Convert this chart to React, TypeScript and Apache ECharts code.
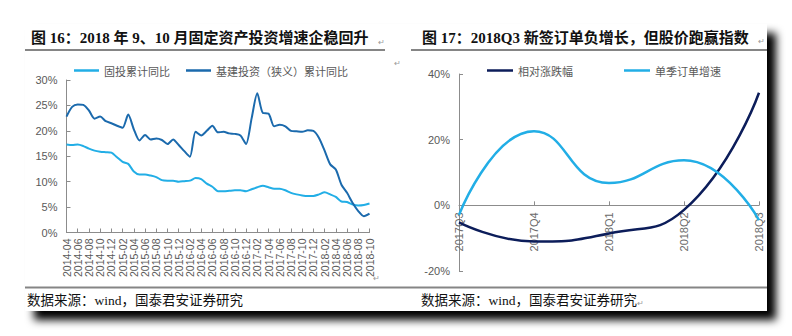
import React, { useEffect, useRef } from "react";
import * as echarts from "echarts";

// ---------- Data ----------
const months: string[] = (() => {
  const out: string[] = [];
  let y = 2014;
  let m = 4;
  while (y < 2018 || (y === 2018 && m <= 10)) {
    out.push(`${y}-${m < 10 ? "0" + m : m}`);
    m++;
    if (m > 12) {
      m = 1;
      y++;
    }
  }
  return out;
})();

// 固投累计同比 (%)
const faiYoY = [
  17.3, 17.2, 17.3, 17.0, 16.5, 16.1, 15.9, 15.8, 15.7, 14.8, 13.9, 13.5,
  12.0, 11.4, 11.4, 11.2, 10.9, 10.3, 10.2, 10.2, 10.0, 10.1, 10.2, 10.7,
  10.5, 9.6, 9.0, 8.1, 8.1, 8.2, 8.3, 8.3, 8.1, 8.5, 8.9, 9.2,
  8.9, 8.6, 8.6, 8.3, 7.8, 7.5, 7.3, 7.2, 7.2, 7.5, 7.9, 7.5,
  7.0, 6.1, 6.0, 5.5, 5.3, 5.4, 5.7,
];

// 基建投资(狭义)累计同比 (%)
const infraYoY = [
  22.8, 24.7, 25.2, 25.1, 24.0, 22.4, 22.8, 21.9, 21.5, 21.0, 20.6, 23.2,
  20.3, 18.1, 19.2, 18.3, 18.5, 18.2, 17.4, 18.3, 17.2, 16.0, 14.9, 19.8,
  19.1, 20.0, 21.0, 19.7, 19.8, 19.5, 19.4, 19.1, 17.4, 22.5, 27.4, 23.5,
  23.4, 20.9, 21.2, 20.9, 20.0, 19.9, 19.8, 20.1, 20.0, 18.6, 16.1, 13.4,
  12.4, 9.4, 7.8, 5.8, 4.2, 3.2, 3.7,
];

const quarters = ["2017Q3", "2017Q4", "2018Q1", "2018Q2", "2018Q3"];
// 相对涨跌幅 (%)
const relReturn = [-5.2, -11.0, -8.6, -1.4, 34.3];
// 单季订单增速 (%)
const orderGrowth = [-2.9, 22.6, 6.8, 13.7, -4.5];

const leftYTicks = { min: 0, max: 30, interval: 5 };
const rightYTicks = { min: -20, max: 40, interval: 20 };

// ---------- Styles ----------
const LIGHT = "#22aee6";
const DARK = "#1b6aad";
const NAVY = "#0c1d5a";
const AXIS = "#8c8c8c";
const LABEL = "#595959";
const SANS = "'Liberation Sans', Arial, sans-serif";
const CJK = "'Liberation Serif', 'Noto Sans CJK SC', serif";
const LEG = "'Noto Sans CJK SC', sans-serif";

// right grid geometry: distance from grid bottom up to the 0 line
const R_TOP = 74;
const R_H = 197;
const zeroLift = R_H * (rightYTicks.min / (rightYTicks.min - rightYTicks.max));

export default function App() {
  const ref = useRef<HTMLDivElement>(null);

  useEffect(() => {
    if (!ref.current) return;
    const chart = echarts.init(ref.current, undefined, { renderer: "svg" });

    const mark = (x: number, y: number) => ({
      type: "text",
      x,
      y,
      style: { text: "↵", fill: "#9a9a9a", font: `8px ${SANS}` },
    });

    chart.setOption({
      animation: false,
      backgroundColor: "#ffffff",
      graphic: [
        {
          type: "rect",
          z: -100,
          shape: { x: 25, y: 24, width: 742, height: 287 },
          style: {
            fill: "#ffffff",
            shadowBlur: 9,
            shadowOffsetX: 9,
            shadowOffsetY: 9,
            shadowColor: "rgba(0,0,0,1)",
          },
        },
        {
          type: "text",
          x: 31,
          y: 38,
          style: {
            text: "图 16：2018 年 9、10 月固定资产投资增速企稳回升",
            font: `bold 15px ${CJK}`,
            fill: "#111",
            verticalAlign: "middle",
          },
        },
        {
          type: "text",
          x: 422,
          y: 38,
          style: {
            text: "图 17：2018Q3 新签订单负增长，但股价跑赢指数",
            font: `bold 15px ${CJK}`,
            fill: "#111",
            verticalAlign: "middle",
          },
        },
        {
          type: "line",
          shape: { x1: 25, y1: 50, x2: 385, y2: 50 },
          style: { stroke: "#858585", lineWidth: 2 },
        },
        {
          type: "line",
          shape: { x1: 411, y1: 50, x2: 767, y2: 50 },
          style: { stroke: "#858585", lineWidth: 2 },
        },
        {
          type: "line",
          shape: { x1: 25, y1: 287.5, x2: 767, y2: 287.5 },
          style: { stroke: "#858585", lineWidth: 2 },
        },
        {
          type: "text",
          x: 27,
          y: 300,
          style: {
            text: "数据来源：wind，国泰君安证券研究",
            font: `13.5px ${CJK}`,
            fill: "#111",
            verticalAlign: "middle",
          },
        },
        {
          type: "text",
          x: 421,
          y: 300,
          style: {
            text: "数据来源：wind，国泰君安证券研究",
            font: `13.5px ${CJK}`,
            fill: "#111",
            verticalAlign: "middle",
          },
        },
        mark(378, 38),
        mark(394, 59),
        mark(758, 37),
        mark(373, 274),
        mark(637, 299),
      ],
      legend: [
        {
          data: ["固投累计同比", "基建投资（狭义）累计同比"],
          left: 69,
          top: 60,
          icon: "rect",
          itemWidth: 25,
          itemHeight: 2.5,
          itemGap: 16,
          textStyle: { fontSize: 11, color: LABEL, fontFamily: LEG },
        },
        {
          data: ["相对涨跌幅", "单季订单增速"],
          left: 482,
          top: 60,
          icon: "rect",
          itemWidth: 26,
          itemHeight: 2.5,
          itemGap: 51,
          textStyle: { fontSize: 11, color: LABEL, fontFamily: LEG },
        },
      ],
      grid: [
        { left: 66.5, top: 80, width: 303, height: 152.5, outerBoundsMode: "none" },
        { left: 459, top: R_TOP, width: 300, height: R_H, outerBoundsMode: "none" },
      ],
      xAxis: [
        {
          gridIndex: 0,
          type: "category",
          data: months,
          boundaryGap: false,
          axisLine: { lineStyle: { color: AXIS, width: 1 } },
          axisTick: { inside: true, interval: 1, length: 4, lineStyle: { color: AXIS } },
          axisLabel: {
            interval: 1,
            rotate: 90,
            margin: 6,
            fontSize: 10.5,
            color: LABEL,
            fontFamily: SANS,
          },
        },
        {
          gridIndex: 1,
          type: "category",
          data: quarters,
          boundaryGap: false,
          position: "bottom",
          offset: -zeroLift,
          axisLine: { onZero: false, lineStyle: { color: AXIS, width: 1 } },
          axisTick: { inside: true, length: 4, lineStyle: { color: AXIS } },
          axisLabel: {
            rotate: 90,
            margin: 7,
            fontSize: 11,
            color: "#6a6a6a",
            fontFamily: SANS,
          },
        },
      ],
      yAxis: [
        {
          gridIndex: 0,
          type: "value",
          ...leftYTicks,
          splitLine: { show: false },
          axisLine: { show: true, lineStyle: { color: AXIS, width: 1 } },
          axisTick: { show: true, inside: true, length: 4, lineStyle: { color: AXIS } },
          axisLabel: {
            formatter: "{value}%",
            margin: 9,
            fontSize: 11,
            color: LABEL,
            fontFamily: SANS,
          },
        },
        {
          gridIndex: 1,
          type: "value",
          ...rightYTicks,
          splitLine: { show: false },
          axisLine: { show: true, onZero: false, lineStyle: { color: AXIS, width: 1 } },
          axisTick: { show: true, inside: true, length: 4, lineStyle: { color: AXIS } },
          axisLabel: {
            formatter: "{value}%",
            margin: 9,
            fontSize: 11,
            color: LABEL,
            fontFamily: SANS,
          },
        },
      ],
      series: [
        {
          name: "固投累计同比",
          type: "line",
          xAxisIndex: 0,
          yAxisIndex: 0,
          data: faiYoY,
          showSymbol: false,
          smooth: 0.25,
          lineStyle: { color: LIGHT, width: 2 },
          itemStyle: { color: LIGHT },
        },
        {
          name: "基建投资（狭义）累计同比",
          type: "line",
          xAxisIndex: 0,
          yAxisIndex: 0,
          data: infraYoY,
          showSymbol: false,
          smooth: 0.25,
          lineStyle: { color: DARK, width: 2 },
          itemStyle: { color: DARK },
        },
        {
          name: "相对涨跌幅",
          type: "line",
          xAxisIndex: 1,
          yAxisIndex: 1,
          data: relReturn,
          showSymbol: false,
          smooth: 0.5,
          lineStyle: { color: NAVY, width: 2.5 },
          itemStyle: { color: NAVY },
        },
        {
          name: "单季订单增速",
          type: "line",
          xAxisIndex: 1,
          yAxisIndex: 1,
          data: orderGrowth,
          showSymbol: false,
          smooth: 0.5,
          lineStyle: { color: LIGHT, width: 2.5 },
          itemStyle: { color: LIGHT },
        },
      ],
    });

    return () => chart.dispose();
  }, []);

  return (
    <div
      ref={ref}
      style={{ position: "fixed", left: 0, top: 0, width: 792, height: 336 }}
    />
  );
}
